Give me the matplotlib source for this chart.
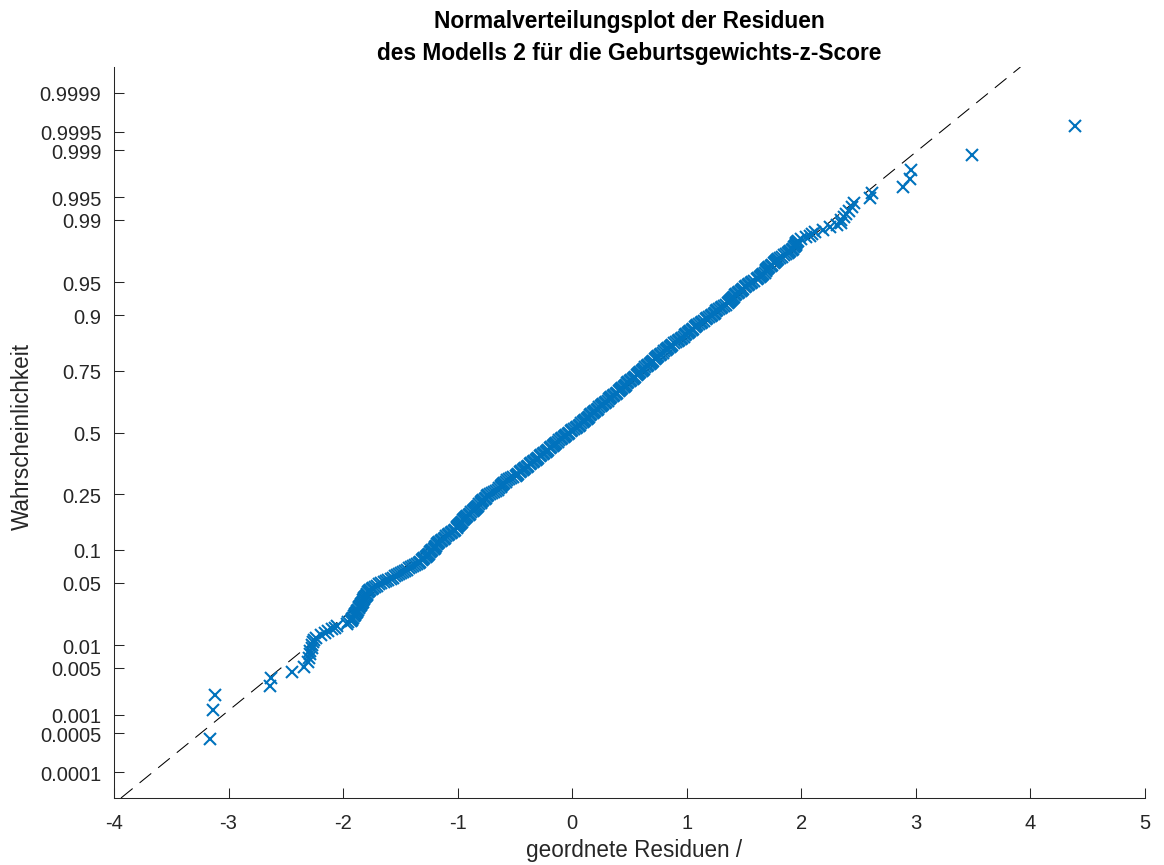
from statistics import NormalDist

import numpy as np
import matplotlib
matplotlib.use("Agg")
import matplotlib.pyplot as plt

plt.rcParams['font.family'] = ['Liberation Sans', 'DejaVu Sans']
plt.rcParams['lines.scale_dashes'] = False
plt.rcParams['axes.unicode_minus'] = False

n_obs = 1250

# smallest residuals, one per rank
low_rank = list(range(1, 26))
low_resid = [-3.16, -3.14, -3.12, -2.64, -2.63, -2.45, -2.34, -2.31, -2.30, -2.29,
             -2.285, -2.275, -2.27, -2.26, -2.25, -2.235, -2.19, -2.16, -2.13, -2.10,
             -2.07, -2.05, -1.97, -1.955, -1.935]

# largest residuals, one per rank
high_rank = list(range(1250, 1228, -1))
high_resid = [4.39, 3.49, 2.96, 2.95, 2.89, 2.62, 2.60, 2.46, 2.44, 2.42,
              2.39, 2.37, 2.35, 2.35, 2.31, 2.25, 2.19, 2.12, 2.09, 2.08,
              2.04, 2.00]

# dense middle part: normal score -> residual
band_score = [
    -2.0500, -2.0375, -2.0250, -2.0125, -2.0000, -1.9875, -1.9750, -1.9625,
    -1.9500, -1.9375, -1.9250, -1.9125, -1.9000, -1.8875, -1.8750, -1.8625,
    -1.8500, -1.8375, -1.8250, -1.8125, -1.8000, -1.7875, -1.7750, -1.7625,
    -1.7500, -1.7375, -1.7250, -1.7125, -1.7000, -1.6875, -1.6750, -1.6625,
    -1.6500, -1.6375, -1.6250, -1.6125, -1.6000, -1.5875, -1.5750, -1.5625,
    -1.5500, -1.5375, -1.5250, -1.5125, -1.5000, -1.4875, -1.4750, -1.4625,
    -1.4500, -1.4375, -1.4250, -1.4125, -1.4000, -1.3875, -1.3750, -1.3625,
    -1.3500, -1.3375, -1.3250, -1.3125, -1.3000, -1.2875, -1.2750, -1.2625,
    -1.2500, -1.2375, -1.2250, -1.2125, -1.2000, -1.1875, -1.1750, -1.1625,
    -1.1500, -1.1375, -1.1250, -1.1125, -1.1000, -1.0875, -1.0750, -1.0625,
    -1.0500, -1.0375, -1.0250, -1.0125, -1.0000, -0.9875, -0.9750, -0.9625,
    -0.9500, -0.9375, -0.9250, -0.9125, -0.9000, -0.8875, -0.8750, -0.8625,
    -0.8500, -0.8375, -0.8250, -0.8125, -0.8000, -0.7875, -0.7750, -0.7625,
    -0.7500, -0.7375, -0.7250, -0.7125, -0.7000, -0.6875, -0.6750, -0.6625,
    -0.6500, -0.6375, -0.6250, -0.6125, -0.6000, -0.5875, -0.5750, -0.5625,
    -0.5500, -0.5375, -0.5250, -0.5125, -0.5000, -0.4875, -0.4750, -0.4625,
    -0.4500, -0.4375, -0.4250, -0.4125, -0.4000, -0.3875, -0.3750, -0.3625,
    -0.3500, -0.3375, -0.3250, -0.3125, -0.3000, -0.2875, -0.2750, -0.2625,
    -0.2500, -0.2375, -0.2250, -0.2125, -0.2000, -0.1875, -0.1750, -0.1625,
    -0.1500, -0.1375, -0.1250, -0.1125, -0.1000, -0.0875, -0.0750, -0.0625,
    -0.0500, -0.0375, -0.0250, -0.0125, 0.0000, 0.0125, 0.0250, 0.0375,
    0.0500, 0.0625, 0.0750, 0.0875, 0.1000, 0.1125, 0.1250, 0.1375,
    0.1500, 0.1625, 0.1750, 0.1875, 0.2000, 0.2125, 0.2250, 0.2375,
    0.2500, 0.2625, 0.2750, 0.2875, 0.3000, 0.3125, 0.3250, 0.3375,
    0.3500, 0.3625, 0.3750, 0.3875, 0.4000, 0.4125, 0.4250, 0.4375,
    0.4500, 0.4625, 0.4750, 0.4875, 0.5000, 0.5125, 0.5250, 0.5375,
    0.5500, 0.5625, 0.5750, 0.5875, 0.6000, 0.6125, 0.6250, 0.6375,
    0.6500, 0.6625, 0.6750, 0.6875, 0.7000, 0.7125, 0.7250, 0.7375,
    0.7500, 0.7625, 0.7750, 0.7875, 0.8000, 0.8125, 0.8250, 0.8375,
    0.8500, 0.8625, 0.8750, 0.8875, 0.9000, 0.9125, 0.9250, 0.9375,
    0.9500, 0.9625, 0.9750, 0.9875, 1.0000, 1.0125, 1.0250, 1.0375,
    1.0500, 1.0625, 1.0750, 1.0875, 1.1000, 1.1125, 1.1250, 1.1375,
    1.1500, 1.1625, 1.1750, 1.1875, 1.2000, 1.2125, 1.2250, 1.2375,
    1.2500, 1.2625, 1.2750, 1.2875, 1.3000, 1.3125, 1.3250, 1.3375,
    1.3500, 1.3625, 1.3750, 1.3875, 1.4000, 1.4125, 1.4250, 1.4375,
    1.4500, 1.4625, 1.4750, 1.4875, 1.5000, 1.5125, 1.5250, 1.5375,
    1.5500, 1.5625, 1.5750, 1.5875, 1.6000, 1.6125, 1.6250, 1.6375,
    1.6500, 1.6625, 1.6750, 1.6875, 1.7000, 1.7125, 1.7250, 1.7375,
    1.7500, 1.7625, 1.7750, 1.7875, 1.8000, 1.8125, 1.8250, 1.8375,
    1.8500, 1.8625, 1.8750, 1.8875, 1.9000, 1.9125, 1.9250, 1.9375,
    1.9500, 1.9625, 1.9750, 1.9875, 2.0000, 2.0125, 2.0250, 2.0375,
    2.0500, 2.0625, 2.0750, 2.0875, 2.1000]
band_resid = [
    -1.925, -1.920, -1.915, -1.908, -1.900, -1.895, -1.890, -1.882,
    -1.875, -1.870, -1.865, -1.858, -1.850, -1.845, -1.840, -1.835,
    -1.830, -1.825, -1.820, -1.815, -1.810, -1.802, -1.795, -1.788,
    -1.780, -1.773, -1.765, -1.750, -1.735, -1.720, -1.705, -1.685,
    -1.665, -1.645, -1.625, -1.605, -1.585, -1.565, -1.545, -1.528,
    -1.510, -1.492, -1.475, -1.458, -1.440, -1.425, -1.410, -1.392,
    -1.375, -1.358, -1.340, -1.325, -1.310, -1.300, -1.290, -1.280,
    -1.270, -1.260, -1.250, -1.240, -1.230, -1.220, -1.210, -1.202,
    -1.195, -1.188, -1.180, -1.170, -1.160, -1.148, -1.135, -1.122,
    -1.110, -1.098, -1.085, -1.072, -1.060, -1.048, -1.035, -1.022,
    -1.010, -1.002, -0.995, -0.988, -0.980, -0.972, -0.965, -0.955,
    -0.945, -0.938, -0.930, -0.918, -0.905, -0.892, -0.880, -0.870,
    -0.860, -0.850, -0.840, -0.830, -0.820, -0.810, -0.800, -0.792,
    -0.785, -0.775, -0.765, -0.755, -0.745, -0.732, -0.720, -0.700,
    -0.680, -0.662, -0.645, -0.635, -0.625, -0.618, -0.610, -0.602,
    -0.595, -0.582, -0.570, -0.552, -0.535, -0.515, -0.495, -0.482,
    -0.470, -0.458, -0.445, -0.432, -0.420, -0.408, -0.395, -0.382,
    -0.370, -0.358, -0.345, -0.332, -0.320, -0.308, -0.295, -0.282,
    -0.270, -0.258, -0.245, -0.232, -0.220, -0.208, -0.195, -0.182,
    -0.170, -0.160, -0.150, -0.138, -0.125, -0.112, -0.100, -0.088,
    -0.075, -0.062, -0.050, -0.038, -0.025, -0.012, 0.000, 0.015,
    0.030, 0.042, 0.055, 0.068, 0.080, 0.092, 0.105, 0.115,
    0.125, 0.135, 0.145, 0.155, 0.165, 0.178, 0.190, 0.202,
    0.215, 0.225, 0.235, 0.248, 0.260, 0.272, 0.285, 0.298,
    0.310, 0.320, 0.330, 0.342, 0.355, 0.368, 0.380, 0.392,
    0.405, 0.415, 0.425, 0.438, 0.450, 0.460, 0.470, 0.480,
    0.490, 0.502, 0.515, 0.528, 0.540, 0.552, 0.565, 0.575,
    0.585, 0.595, 0.605, 0.615, 0.625, 0.638, 0.650, 0.662,
    0.675, 0.685, 0.695, 0.708, 0.720, 0.730, 0.740, 0.752,
    0.765, 0.778, 0.790, 0.802, 0.815, 0.828, 0.840, 0.850,
    0.860, 0.872, 0.885, 0.902, 0.920, 0.935, 0.950, 0.962,
    0.975, 0.985, 0.995, 1.008, 1.020, 1.032, 1.045, 1.058,
    1.070, 1.080, 1.090, 1.105, 1.120, 1.135, 1.150, 1.165,
    1.180, 1.195, 1.210, 1.222, 1.235, 1.245, 1.255, 1.268,
    1.280, 1.295, 1.310, 1.328, 1.345, 1.358, 1.370, 1.378,
    1.385, 1.392, 1.400, 1.410, 1.420, 1.432, 1.445, 1.458,
    1.470, 1.482, 1.495, 1.508, 1.520, 1.532, 1.545, 1.558,
    1.570, 1.590, 1.610, 1.622, 1.635, 1.645, 1.655, 1.668,
    1.680, 1.688, 1.695, 1.702, 1.710, 1.722, 1.735, 1.748,
    1.760, 1.770, 1.780, 1.790, 1.800, 1.818, 1.835, 1.852,
    1.870, 1.882, 1.895, 1.905, 1.915, 1.925, 1.935, 1.942,
    1.950, 1.952, 1.955, 1.965, 1.975]

# quartiles of the residuals, the reference line goes through them
q1, q3 = -0.675, 0.649

prob_ticks = [0.0001, 0.0005, 0.001, 0.005, 0.01, 0.05, 0.1, 0.25, 0.5,
              0.75, 0.9, 0.95, 0.99, 0.995, 0.999, 0.9995, 0.9999]
prob_labels = ['0.0001', '0.0005', '0.001', '0.005', '0.01', '0.05', '0.1', '0.25', '0.5',
               '0.75', '0.9', '0.95', '0.99', '0.995', '0.999', '0.9995', '0.9999']

nd = NormalDist()


def rank_score(ranks):
    return [nd.inv_cdf((r - 0.5) / n_obs) for r in ranks]


x = np.concatenate([low_resid, band_resid, high_resid])
z = np.concatenate([rank_score(low_rank), band_score, rank_score(high_rank)])

fig = plt.figure(figsize=(7.76, 5.7733), dpi=150)
ax = fig.add_axes([114 / 1164, 67 / 866, 1031 / 1164, 731 / 866])
ylim = (-4.0, 4.0)

# reference line through the quartiles
zq = nd.inv_cdf(0.75)
slope = (q3 - q1) / (2 * zq)
mid = (q1 + q3) / 2
ax.plot([mid + ylim[0] * slope, mid + ylim[1] * slope], ylim, color='black',
        lw=0.5, ls=(0, (7.2, 4.3)), zorder=1)

ax.plot(x, z, 'x', color='#0072BD', ms=5.3, mew=1.0, zorder=2)

ax.set_xlim(-4, 5)
ax.set_ylim(*ylim)
ax.set_xticks(range(-4, 6))
ax.set_yticks([nd.inv_cdf(p) for p in prob_ticks])
ax.set_yticklabels(prob_labels)

for s in ['top', 'right']:
    ax.spines[s].set_visible(False)
for s in ['left', 'bottom']:
    ax.spines[s].set_color('#262626')
    ax.spines[s].set_linewidth(0.5)
ax.tick_params(direction='in', length=4.9, width=0.5, color='#262626',
               labelcolor='#262626', labelsize=9.7)
ax.tick_params(axis='y', pad=6.0)
ax.tick_params(axis='x', pad=7.4)

fig.text(634 / 1164, 1 - 857 / 866, 'geordnete Residuen /', ha='center', va='baseline',
         fontsize=10.8, color='#262626')
fig.text(22 / 1164, 1 - 437 / 866, 'Wahrscheinlichkeit', ha='center', va='center',
         rotation=90, fontsize=10.8, color='#262626')
ax.set_title('Normalverteilungsplot der Residuen\n'
             'des Modells 2 für die Geburtsgewichts-z-Score',
             fontsize=10.9, fontweight='bold', pad=4, linespacing=1.46)

fig.savefig('out.png', dpi=150)
